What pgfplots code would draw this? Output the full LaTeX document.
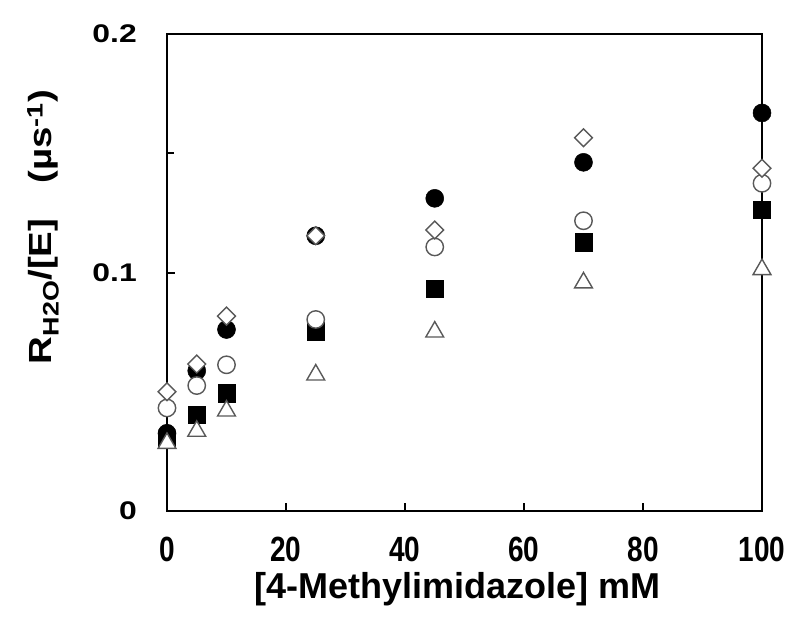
\documentclass[border=0pt]{standalone}
\usepackage{fontspec}
\setmainfont{Liberation Sans}
\newfontfamily\ytfont[FakeStretch=1.25]{Liberation Sans}
\newfontfamily\xtfont[FakeStretch=0.8]{Liberation Sans}
\newfontfamily\xlfont{Liberation Sans}
\newfontfamily\ylfont[FakeStretch=1.2]{Liberation Sans}
\usepackage{pgfplots}
\pgfplotsset{compat=1.18}
\begin{document}
\begin{tikzpicture}
\useasboundingbox (-167pt,-132pt) rectangle (633pt,511pt);
\begin{axis}[
  at={(0pt,0pt)}, anchor=south west,
  scale only axis, width=595pt, height=477pt,
  xmin=0, xmax=100, ymin=0, ymax=0.2,
  clip=false,
  axis line style={line width=2.5pt},
  every tick/.style={line width=2pt, black},
  tick align=inside,
  xtick pos=bottom, ytick pos=left,
  major tick length=8pt, minor tick length=7pt,
  xtick={0,20,40,60,80,100},
  xticklabels={0,20,40,60,80,100},
  ytick={0,0.1,0.2},
  yticklabels={0,0.1,0.2},
  minor ytick={0.05,0.15},
  xticklabel style={font=\xtfont\bfseries\fontsize{35}{40}\selectfont, anchor=center, inner sep=0pt, yshift=-38pt},
  yticklabel style={font=\ytfont\bfseries\fontsize{25.5}{28}\selectfont, anchor=east, inner sep=0pt, xshift=-30pt},
  every axis x label/.style={at={(rel axis cs:0.489,-0.163)}, anchor=center, font=\xlfont\bfseries\fontsize{36}{40}\selectfont},
  every axis y label/.style={at={(rel axis cs:-0.2084,0.5954)}, rotate=90, anchor=center, font=\ylfont\bfseries\fontsize{32}{34}\selectfont},
  xlabel={[4-Methylimidazole] mM},
  ylabel={R\textsubscript{H2O}/[E]\hspace{1.1em}(µs\textsuperscript{-1})},
]
% filled circle
\addplot[only marks, mark=*, mark size=9pt, mark options={fill=black, draw=black, line width=0.5pt}]
coordinates {(0,0.0326) (5,0.0588) (10,0.0761) (25,0.1154) (45,0.1311) (70,0.1462) (100,0.1669)};
% filled square
\addplot[only marks, mark=square*, mark size=8.7pt, mark options={fill=black, draw=black, line width=0.5pt}]
coordinates {(0,0.030) (5,0.0403) (10,0.0494) (25,0.0754) (45,0.0933) (70,0.1126) (100,0.1263)};
% open circle
\addplot[only marks, mark=*, mark size=8.7pt, mark options={fill=white, draw=black!65, line width=1.4pt}]
coordinates {(0,0.0432) (5,0.0526) (10,0.0613) (25,0.0803) (45,0.1107) (70,0.1217) (100,0.1374)};
% open diamond
\addplot[only marks, mark=square*, mark size=6.3pt, mark options={rotate=45, fill=white, draw=black!65, line width=1.4pt}]
coordinates {(0,0.0500) (5,0.0616) (10,0.0817) (25,0.1154) (45,0.1178) (70,0.1565) (100,0.1437)};
% open triangle
\addplot[only marks, mark=triangle*, mark size=10.3pt, mark options={fill=white, draw=black!65, line width=1.4pt}]
coordinates {(0,0.0284) (5,0.0335) (10,0.0420) (25,0.0571) (45,0.0751) (70,0.0957) (100,0.1013)};
\end{axis}
\end{tikzpicture}
\end{document}
